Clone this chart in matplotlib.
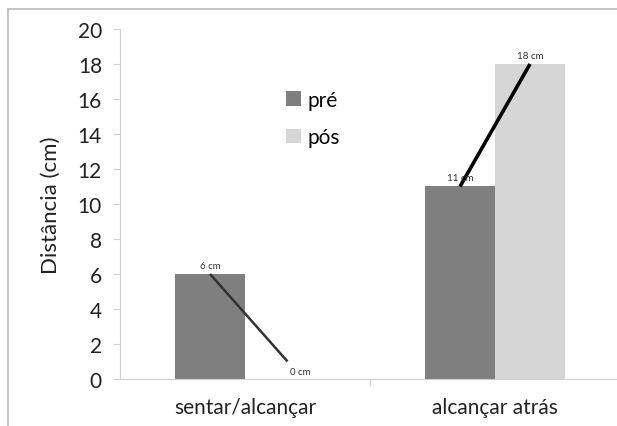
import matplotlib.pyplot as plt
import numpy as np
from matplotlib.lines import Line2D

# data
categorias = ['sentar/alcançar', 'alcançar atrás']
series = ['pré', 'pós']
pre = [6, 11]
pos = [0, 18]
rotulos_pre = ['6 cm', '11 cm']
rotulos_pos = ['0 cm', '18 cm']

cor_pre = '#7f7f7f'
cor_pos = '#d6d6d6'
cor_eixo = '#d0d0d0'

plt.rcParams['font.family'] = ['Lato', 'DejaVu Sans']

fig = plt.figure(figsize=(6.17, 4.27), dpi=100)
ax = fig.add_axes([0.1945, 0.1101, 0.8104, 0.8197])

x = np.arange(len(categorias))
w = 0.28
ax.bar(x - w / 2, pre, w, color=cor_pre, label=series[0])
ax.bar(x + w / 2, pos, w, color=cor_pos, label=series[1])

# linhas ligando pré -> pós e rótulos
estilos = [dict(color='#333333', lw=1.8), dict(color='black', lw=2.6)]
for i in range(len(categorias)):
    x0, x1 = x[i] - w / 2, x[i] + w / 2
    y1 = pos[i] if pos[i] > 0 else 1.0
    x1b = x1 if pos[i] > 0 else x1 + 0.03
    ax.plot([x0, x1b], [pre[i], y1], solid_capstyle='butt', zorder=3, **estilos[i])
    ax.text(x0, pre[i] + 0.25, rotulos_pre[i], ha='center', va='bottom',
            fontsize=7, color='#333333')
    if pos[i] > 0:
        ax.text(x1, pos[i] + 0.25, rotulos_pos[i], ha='center', va='bottom',
                fontsize=7, color='#333333')
    else:
        ax.text(x1 + 0.08, 0.15, rotulos_pos[i], ha='center', va='bottom',
                fontsize=7, color='#333333')

ax.set_xlim(-0.5, 1.5)
ax.set_ylim(0, 20)
ax.set_yticks(np.arange(0, 21, 2))
ax.set_xticks(x)
ax.set_xticklabels(categorias, fontsize=15, color='#222222')
ax.set_xticks([0.5], minor=True)
ax.tick_params(axis='x', which='major', length=0, pad=13)
ax.tick_params(axis='x', which='minor', length=5, color=cor_eixo, width=1)
ax.tick_params(axis='y', length=5, color=cor_eixo, labelsize=15, labelcolor='#222222', pad=8)
ax.set_ylabel('Distância (cm)', fontsize=16, color='#222222', labelpad=12)

for s in ['top', 'right']:
    ax.spines[s].set_visible(False)
ax.spines['left'].set_color(cor_eixo)
ax.spines['bottom'].set_color(cor_eixo)

ax.legend(loc='upper left', bbox_to_anchor=(0.295, 0.88), frameon=False,
          fontsize=15, handlelength=0.7, handleheight=0.7, handletextpad=0.3,
          labelspacing=0.85)

# moldura externa
fig.add_artist(Line2D([0.013, 1.0], [0.977, 0.977], color='#bbbbbb', lw=1.2))
fig.add_artist(Line2D([0.013, 0.013], [0.0, 0.977], color='#bbbbbb', lw=1.2))

fig.savefig('out.png', dpi=100)
